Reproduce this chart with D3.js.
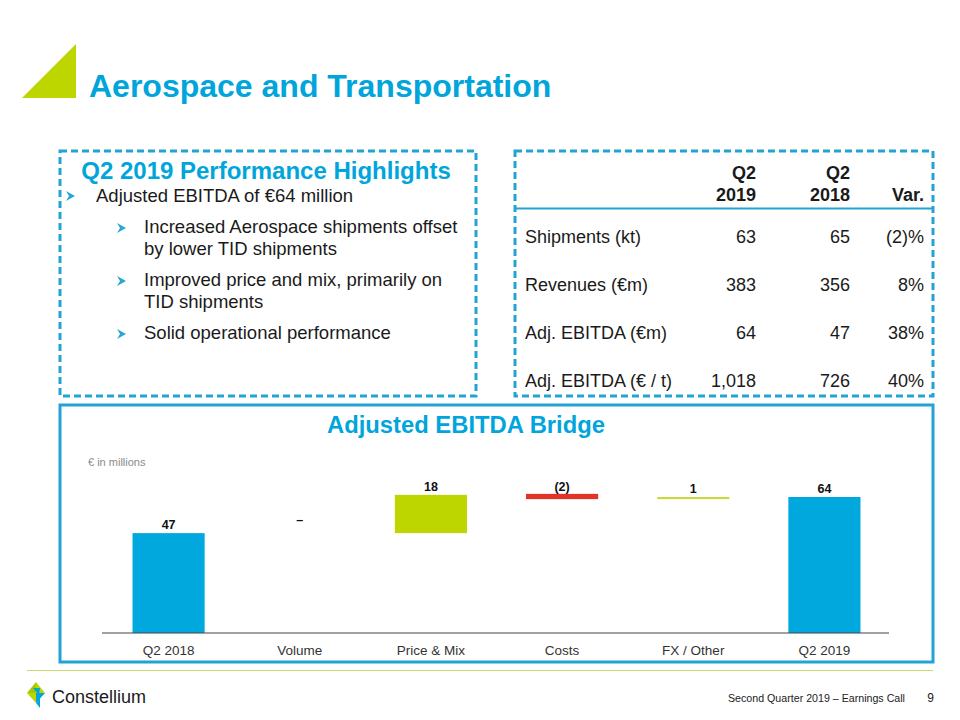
<!DOCTYPE html>
<html>
<head>
<meta charset="utf-8">
<script src="https://cdn.jsdelivr.net/npm/d3@7"></script>
<style>
  html, body { margin: 0; padding: 0; background: #fff; }
  svg { display: block; }
  text { font-family: "Liberation Sans", Arial, sans-serif; }
</style>
</head>
<body>
<svg id="chart" width="960" height="720"></svg>
<script>
// ---------------- DATA ----------------
const categories = ["Q2 2018", "Volume", "Price & Mix", "Costs", "FX / Other", "Q2 2019"];
const values = [47, 0, 18, -2, 1, 64];
const valueLabels = ["47", "–", "18", "(2)", "1", "64"];
const barTypes = ["total", "delta", "delta", "delta", "delta", "total"];

const tableHeader1 = ["Q2", "Q2", ""];
const tableHeader2 = ["2019", "2018", "Var."];
const rowLabels = ["Shipments (kt)", "Revenues (€m)", "Adj. EBITDA (€m)", "Adj. EBITDA (€ / t)"];
const q2019 = ["63", "383", "64", "1,018"];
const q2018 = ["65", "356", "47", "726"];
const variance = ["(2)%", "8%", "38%", "40%"];

const highlightsTitle = "Q2 2019 Performance Highlights";
const bulletMain = ["Adjusted EBITDA of €64 million"];
const subBullets = [
  ["Increased Aerospace shipments offset", "by lower TID shipments"],
  ["Improved price and mix, primarily on", "TID shipments"],
  ["Solid operational performance"]
];

// ---------------- STYLE ----------------
const BLUE = "#00a5dc";
const BOX = "#22a3d4";
const GREEN = "#bed600";
const RED = "#e2332b";
const GREEN_LIGHT = "#c8da3c";

const svg = d3.select("#chart");

// Slide title
svg.append("path").attr("d", "M22,98 L76,44 L76,98 Z").attr("fill", GREEN);
svg.append("text").attr("x", 89).attr("y", 97).attr("font-size", 32).attr("font-weight", "bold")
  .attr("fill", BLUE).text("Aerospace and Transportation");

// Boxes
svg.append("rect").attr("x", 60).attr("y", 151).attr("width", 416).attr("height", 245)
  .attr("fill", "none").attr("stroke", BOX).attr("stroke-width", 3).attr("stroke-dasharray", "7,4");
svg.append("rect").attr("x", 515).attr("y", 151).attr("width", 418).attr("height", 245)
  .attr("fill", "none").attr("stroke", BOX).attr("stroke-width", 3).attr("stroke-dasharray", "7,4");
svg.append("rect").attr("x", 60).attr("y", 405).attr("width", 873).attr("height", 257)
  .attr("fill", "none").attr("stroke", BOX).attr("stroke-width", 3);

// Highlights
svg.append("text").attr("x", 266).attr("y", 179).attr("text-anchor", "middle")
  .attr("font-size", 24).attr("font-weight", "bold").attr("fill", BLUE).text(highlightsTitle);

function arrow(x, y) {
  svg.append("path")
    .attr("d", `M${x},${y - 5} L${x + 9},${y} L${x},${y + 5} L${x + 3},${y} Z`)
    .attr("fill", "#2aa6d6");
}
arrow(66, 196);
svg.append("text").attr("x", 96).attr("y", 202).attr("font-size", 18.5).attr("fill", "#1a1a1a").text(bulletMain[0]);

const subY = [233, 286, 339];
subBullets.forEach((lines, i) => {
  arrow(117, subY[i] - 5);
  lines.forEach((ln, j) => {
    svg.append("text").attr("x", 144).attr("y", subY[i] + j * 22).attr("font-size", 18.5)
      .attr("fill", "#1a1a1a").text(ln);
  });
});

// Table
const colX = [756, 850, 924];
colX.forEach((x, i) => {
  svg.append("text").attr("x", x).attr("y", 179).attr("text-anchor", "end").attr("font-size", 18)
    .attr("font-weight", "bold").attr("fill", "#1a1a1a").text(tableHeader1[i]);
  svg.append("text").attr("x", x).attr("y", 201).attr("text-anchor", "end").attr("font-size", 18)
    .attr("font-weight", "bold").attr("fill", "#1a1a1a").text(tableHeader2[i]);
});
svg.append("line").attr("x1", 515).attr("x2", 933).attr("y1", 208.5).attr("y2", 208.5)
  .attr("stroke", BOX).attr("stroke-width", 2);
const rowY = [243, 291, 339, 387];
rowLabels.forEach((lab, i) => {
  svg.append("text").attr("x", 525).attr("y", rowY[i]).attr("font-size", 18).attr("fill", "#1a1a1a").text(lab);
  [q2019[i], q2018[i], variance[i]].forEach((v, k) => {
    svg.append("text").attr("x", colX[k]).attr("y", rowY[i]).attr("text-anchor", "end")
      .attr("font-size", 18).attr("fill", "#1a1a1a").text(v);
  });
});

// Bridge chart
svg.append("text").attr("x", 466).attr("y", 433).attr("text-anchor", "middle")
  .attr("font-size", 23).attr("font-weight", "bold").attr("fill", BLUE)
  .attr("textLength", 278).attr("lengthAdjust", "spacingAndGlyphs").text("Adjusted EBITDA Bridge");
svg.append("text").attr("x", 88).attr("y", 466).attr("font-size", 11)
  .attr("fill", "#8a8a8a").text("€ in millions");

// compute waterfall
let run = 0;
const bars = categories.map((c, i) => {
  let y0, y1;
  if (barTypes[i] === "total") { y0 = 0; y1 = values[i]; run = values[i]; }
  else { y0 = run; y1 = run + values[i]; run = y1; }
  return { cat: c, y0, y1, v: values[i], type: barTypes[i], label: valueLabels[i] };
});

const x = d3.scaleBand().domain(categories).range([103, 890]).paddingInner(0.45).paddingOuter(0.225);
const y = d3.scaleLinear().domain([0, 64]).range([633, 497]);

function color(d) {
  if (d.type === "total") return "#00a8de";
  if (d.v < 0) return RED;
  if (d.cat === "FX / Other") return GREEN_LIGHT;
  return GREEN;
}

const g = svg.append("g");
g.selectAll("rect.bar").data(bars.filter(d => d.v !== 0)).join("rect")
  .attr("class", "bar")
  .attr("x", d => x(d.cat))
  .attr("width", x.bandwidth())
  .attr("y", d => y(Math.max(d.y0, d.y1)) - (d.type === "delta" && d.v < 0 ? 1 : 0))
  .attr("height", d => Math.abs(y(d.y0) - y(d.y1)) + (d.type === "delta" && d.v < 0 ? 1 : 0))
  .attr("fill", color);

g.selectAll("text.val").data(bars).join("text")
  .attr("class", "val")
  .attr("x", d => x(d.cat) + x.bandwidth() / 2)
  .attr("y", d => y(Math.max(d.y0, d.y1)) - (d.v === 0 ? 9 : 4))
  .attr("text-anchor", "middle").attr("font-size", 12.5).attr("font-weight", "bold")
  .attr("fill", "#111").text(d => d.label);

const axis = d3.axisBottom(x).tickSize(0).tickPadding(12);
const ax = svg.append("g").attr("transform", "translate(0,633)").call(axis);
ax.select(".domain").attr("stroke", "#444").attr("stroke-width", 1.2).attr("d", "M102,0H889");
ax.selectAll("text").attr("font-size", 13.5).attr("fill", "#333")
  .attr("font-family", "'Liberation Sans', Arial, sans-serif")
  .attr("dy", "0.71em");

// Footer
svg.append("line").attr("x1", 27).attr("x2", 933).attr("y1", 670.5).attr("y2", 670.5)
  .attr("stroke", "#cdd96a").attr("stroke-width", 1);
// logo
const lg = svg.append("g").attr("transform", "translate(27,682)");
lg.append("path").attr("d", "M9,0 L18,11 L9,11 Z").attr("fill", GREEN);
lg.append("path").attr("d", "M9,0 L0,11 L9,11 Z").attr("fill", "#a6c800");
lg.append("path").attr("d", "M0,11 L9,11 L9,21 Z").attr("fill", GREEN);
lg.append("path").attr("d", "M9,11 L18,11 L9,21 Z").attr("fill", "#00a5dc");
lg.append("path").attr("d", "M6,6 L13,6 L12,13 Z").attr("fill", "#00a5dc");
lg.append("path").attr("d", "M9,21 L13,16 L13,26 Z").attr("fill", "#00a5dc");
svg.append("text").attr("x", 52).attr("y", 703).attr("font-size", 18).attr("fill", "#1a1a1a")
  .text("Constellium");
svg.append("text").attr("x", 905).attr("y", 702).attr("text-anchor", "end")
  .attr("font-size", 11.5).attr("fill", "#222")
  .attr("textLength", 177).attr("lengthAdjust", "spacingAndGlyphs").text("Second Quarter 2019 – Earnings Call");
svg.append("text").attr("x", 934).attr("y", 702).attr("text-anchor", "end")
  .attr("font-size", 12).attr("fill", "#222").text("9");
</script>
</body>
</html>
